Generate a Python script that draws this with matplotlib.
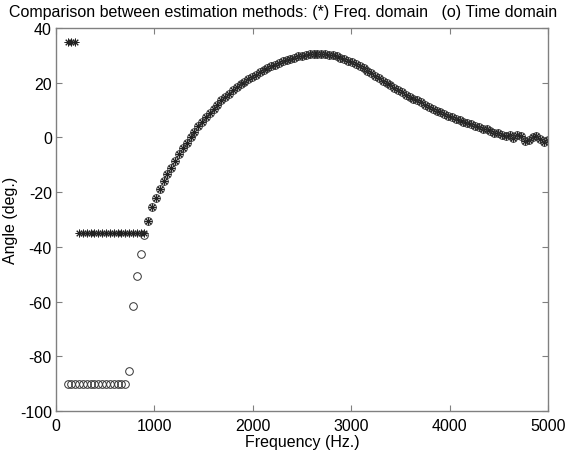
"""Phase estimate comparison: frequency-domain vs time-domain method."""

import numpy as np
import matplotlib

matplotlib.use("Agg")
import matplotlib.pyplot as plt  # noqa: E402

plt.rcParams.update({
    "font.family": ["Liberation Sans", "DejaVu Sans"],
    "font.size": 11.5,
    "axes.unicode_minus": False,
})

# frequency grid: FFT bins 3..128 at 10 kHz / 256 points
BIN_HZ = 10000 / 256
bins = np.arange(3, 129)
freq = bins * BIN_HZ

# frequency-domain estimate (*), one value per bin
freq_domain = [
    35, 35, 35,
    -35, -35, -35, -35, -35, -35, -35, -35, -35, -35, -35, -35, -35, -35, -35, -35, -35,
    -35, -30.5, -25.5, -22, -19, -16, -13.5, -11, -8.5, -6, -4, -2, 0, 2, 4, 5.8,
    7.5, 9, 10.5, 12, 13.5, 14.8, 16, 17.2, 18.3, 19.4, 20.4, 21.3, 22.2, 23.0,
    23.8, 24.6, 25.3, 26.0, 26.6, 27.2, 27.8, 28.3, 28.8, 29.2, 29.6, 29.9, 30.2,
    30.4, 30.5, 30.6, 30.6, 30.5, 30.3, 30.0, 29.6, 29.2, 28.7, 28.1, 27.4, 26.7,
    26.0, 25.2, 24.4, 23.5, 22.6, 21.7, 20.8, 19.9, 19.0, 18.2, 17.3, 16.5, 15.6,
    14.9, 14.2, 13.5, 12.8, 12.0, 11.2, 10.4, 9.8, 9.2, 8.5, 7.9, 7.3, 6.8, 6.2,
    5.6, 5.2, 4.9, 4.2, 3.8, 3.2, 3.0, 2.4, 1.8, 1.7, 1.0, 0.6, 0.8, -0.2, 1.0,
    0.5, -1.2, -0.8, 0.2, 0.5, -0.5, -1.5, -1.0,
]

# time-domain estimate (o) differs only in the first bins, then coincides
time_low = [
    -90, -90, -90, -90, -90, -90, -90, -90, -90, -90, -90, -90, -90, -90, -90, -90,
    -85.4, -61.6, -50.6, -42.6, -35.8,
]
time_domain = time_low + freq_domain[len(time_low):]

fig = plt.figure(figsize=(5.66, 4.56), dpi=100)
ax = fig.add_axes([56 / 566, 44 / 456, 492 / 566, 383 / 456])

ax.plot(freq, freq_domain, linestyle="none", marker=(8, 2, 0), ms=5.5, mew=0.7,
        color="#222222")
ax.plot(freq, time_domain, linestyle="none", marker="o", ms=5.5, mew=0.7,
        mfc="none", mec="#333333")

ax.set_xlim(0, 5000)
ax.set_ylim(-100, 40)
ax.set_xticks([0, 1000, 2000, 3000, 4000, 5000])
ax.set_yticks(np.arange(-100, 41, 20))
ax.tick_params(direction="in", length=4, top=True, right=True, color="#808080", pad=3)
ax.tick_params(axis="x", pad=5)
for s in ax.spines.values():
    s.set_color("#808080")
    s.set_linewidth(1.0)

ax.set_xlabel("Frequency (Hz.)", labelpad=1)
ax.set_ylabel("Angle (deg.)")
ax.yaxis.set_label_coords(-38 / 492, 0.5)
fig.text(283 / 566, 1 - 13 / 456,
         "Comparison between estimation methods: (*) Freq. domain   (o) Time domain",
         ha="center", va="center", fontsize=11.5)

fig.savefig("out.png", dpi=100)
